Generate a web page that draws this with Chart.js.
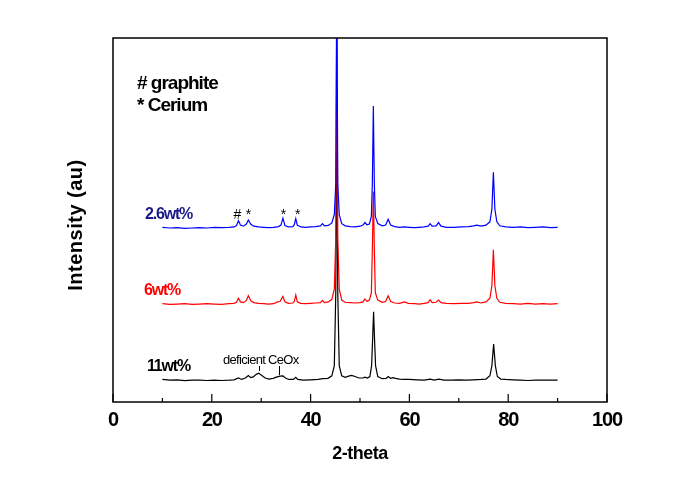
<!DOCTYPE html>
<html>
<head>
<meta charset="utf-8">
<script src="https://cdn.jsdelivr.net/npm/chart.js@4.4.1/dist/chart.umd.min.js"></script>
<style>
    html, body { margin: 0; padding: 0; background: #fff; }
    canvas { display: block; }
</style>
</head>
<body>
<canvas id="xrd" width="674" height="498"></canvas>
<script>
// 2-theta / intensity pairs (traces are offset vertically)
const trace26 = [
    [10, 48.0], [11.5, 47.8], [13, 47.9], [14.5, 47.7], [16, 47.8], [17.5, 47.9], [19, 47.8], [20.5, 48.0],
    [22, 47.9], [23.5, 48.0], [24.5, 48.1], [25.0, 48.5], [25.4, 49.8], [25.8, 48.6], [26.4, 48.3], [27.0, 48.9],
    [27.4, 50.0], [27.9, 48.8], [28.5, 48.3], [29.5, 48.1], [30.5, 48.0], [31.5, 47.9], [32.5, 48.0], [33.5, 48.2],
    [34.0, 48.6], [34.4, 50.5], [34.8, 48.5], [35.5, 48.1], [36.4, 48.2], [36.7, 48.7], [37.0, 50.4], [37.3, 48.6],
    [38, 48.1], [39, 48.0], [40, 48.1], [41, 48.2], [42.0, 48.4], [42.4, 49.0], [42.8, 48.4], [43.6, 48.5],
    [44.3, 49.2], [44.8, 51.5], [45.1, 60], [45.3, 115], [45.5, 60], [45.8, 51.5], [46.3, 49.0], [47, 48.4],
    [48, 48.2], [49, 48.1], [50.0, 48.3], [50.6, 48.6], [51.0, 49.3], [51.4, 48.7], [51.9, 48.9], [52.3, 51],
    [52.5, 60], [52.7, 81.3], [52.9, 60], [53.1, 51], [53.6, 49.0], [54.5, 48.4], [55.2, 48.6], [55.7, 50.2],
    [56.2, 48.6], [57, 48.2], [58, 48.0], [59, 48.1], [60, 48.0], [61, 47.9], [62, 48.0], [63, 48.1],
    [63.8, 48.3], [64.2, 49.0], [64.6, 48.3], [65.4, 48.4], [65.9, 49.3], [66.4, 48.3], [67.5, 48.0], [69, 48.0],
    [70.5, 48.1], [72, 48.2], [73, 48.4], [73.6, 48.6], [74.5, 48.3], [75.5, 48.6], [76.3, 49.5], [76.7, 53],
    [77.0, 63.1], [77.3, 53], [77.7, 49.5], [78.3, 48.4], [79.5, 48.1], [81, 48.0], [82.5, 48.1], [84, 47.9],
    [85.5, 48.0], [87, 48.1], [88.5, 47.9], [90, 48.0]
];
const trace6 = [
    [10, 27.0], [11.5, 26.8], [13, 26.9], [14.5, 27.0], [16, 26.8], [17.5, 26.9], [19, 27.0], [20.5, 26.9],
    [22, 26.8], [23.5, 27.0], [24.5, 27.1], [25.0, 27.4], [25.4, 28.5], [25.8, 27.5], [26.4, 27.3], [27.0, 27.9],
    [27.4, 29.2], [27.9, 27.8], [28.5, 27.3], [29.5, 27.1], [30.5, 27.0], [31.5, 26.9], [32.5, 27.0], [33.3, 27.5],
    [33.8, 27.6], [34.4, 29.0], [34.8, 27.5], [35.5, 27.1], [36.4, 27.2], [36.7, 27.6], [37.0, 29.4], [37.3, 27.5],
    [38, 27.1], [39, 27.0], [40, 27.1], [41, 27.2], [42.0, 27.3], [42.4, 27.9], [42.8, 27.3], [43.6, 27.5],
    [44.3, 28.2], [44.8, 31], [45.1, 45], [45.3, 115], [45.5, 45], [45.8, 31], [46.3, 28.0], [47, 27.4],
    [48, 27.3], [49, 27.2], [50, 27.3], [50.6, 27.5], [51.0, 28.3], [51.4, 27.6], [51.9, 28.0], [52.3, 30],
    [52.5, 42], [52.7, 57.8], [52.9, 42], [53.1, 30], [53.6, 28.0], [54.5, 27.4], [55.2, 27.6], [55.7, 29.2],
    [56.2, 27.6], [57, 27.2], [58, 27.1], [59.0, 27.5], [59.8, 27.1], [61, 27.0], [62, 26.9], [63, 27.1],
    [63.8, 27.3], [64.2, 28.1], [64.6, 27.3], [65.4, 27.4], [65.9, 28.0], [66.4, 27.3], [67.5, 27.1], [69, 27.0],
    [70.5, 27.1], [72, 27.1], [73, 27.3], [73.6, 27.5], [74.5, 27.2], [75.5, 27.5], [76.3, 28.5], [76.7, 32],
    [77.0, 41.8], [77.3, 32], [77.7, 28.5], [78.3, 27.4], [79.5, 27.1], [81, 27.0], [82.5, 26.9], [84, 27.1],
    [85.5, 26.9], [87, 27.0], [88.5, 26.9], [90, 27.0]
];
const trace11 = [
    [10, 6.2], [11.5, 6.0], [13, 6.1], [14.5, 5.9], [16, 6.0], [17.5, 6.0], [19, 5.9], [20.5, 6.0],
    [22, 5.9], [23.5, 6.0], [24.5, 6.1], [25.4, 6.6], [26.0, 6.2], [26.8, 6.6], [27.4, 7.3], [27.9, 6.7],
    [28.4, 6.9], [29.0, 7.6], [29.5, 7.9], [30.0, 7.4], [30.8, 6.6], [31.6, 6.3], [32.4, 6.5], [33.2, 6.9],
    [33.8, 7.1], [34.4, 7.2], [34.9, 6.6], [35.6, 6.2], [36.5, 6.2], [37.0, 6.8], [37.4, 6.2], [38.5, 6.0],
    [40, 6.1], [41.5, 6.2], [42.5, 6.4], [43.5, 6.5], [44.3, 7.2], [44.8, 10], [45.1, 30], [45.3, 75],
    [45.5, 30], [45.8, 10], [46.3, 7.2], [47, 6.8], [47.7, 7.1], [48.3, 7.3], [49.0, 7.0], [49.8, 6.6],
    [50.6, 6.6], [51.0, 6.8], [51.5, 6.6], [52.0, 7.0], [52.35, 10], [52.55, 17], [52.75, 24.8], [52.95, 17],
    [53.15, 10], [53.6, 7.0], [54.5, 6.4], [55.3, 6.5], [55.7, 7.0], [56.2, 6.5], [56.7, 6.7], [57.2, 6.5],
    [58, 6.3], [59, 6.2], [60, 6.2], [61.5, 6.1], [63, 6.0], [64.2, 6.3], [65, 6.0], [66, 6.3],
    [67, 6.0], [68.5, 6.0], [70, 6.1], [71.5, 6.0], [73, 6.1], [74.5, 6.2], [75.5, 6.3], [76.3, 7.2],
    [76.7, 10], [77.05, 15.9], [77.4, 10], [77.8, 7.0], [78.5, 6.3], [79.5, 6.2], [81, 6.1], [82.5, 6.0],
    [84, 5.9], [85.5, 6.0], [87, 6.0], [88.5, 6.0], [90, 6.0]
];

const sampleNames = ['2.6wt%', '6wt%', '11wt%'];
const xTickValues = [0, 20, 40, 60, 80, 100];
const xTickLabels = ['0', '20', '40', '60', '80', '100'];
const xMinorTicks = [10, 30, 50, 70, 90];

// phase markers above the 2.6wt% trace
const phaseMarks = ['#', '*', '*', '*'];
const phaseMarkAt = [25.2, 27.4, 34.5, 37.4];
// deficient CeOx leader lines on the 11wt% trace
const ceoxAt = [29.6, 33.7];

const FONT = '"Liberation Sans", Arial, sans-serif';

function drawText(ctx, str, x, y, font, color, spacing, align) {
    ctx.save();
    ctx.font = font;
    ctx.fillStyle = color;
    ctx.letterSpacing = spacing + 'px';
    ctx.textAlign = align || 'left';
    ctx.textBaseline = 'alphabetic';
    ctx.fillText(str, x, y);
    ctx.restore();
}

const decorations = {
    id: 'decorations',
    beforeDraw(chart) {
        // condensed look for the tick labels drawn by Chart.js
        chart.ctx.letterSpacing = '-1.2px';
    },
    afterDraw(chart) {
        const ctx = chart.ctx;
        const area = chart.chartArea;
        const xs = chart.scales.x;
        ctx.letterSpacing = '0px';

        // frame
        ctx.save();
        ctx.strokeStyle = '#000';
        ctx.lineWidth = 1.5;
        ctx.strokeRect(area.left, area.top, area.right - area.left, area.bottom - area.top);

        // inward ticks
        ctx.lineWidth = 1.2;
        ctx.beginPath();
        xTickValues.forEach(v => {
            const px = xs.getPixelForValue(v);
            ctx.moveTo(px, area.bottom);
            ctx.lineTo(px, area.bottom - 8);
        });
        xMinorTicks.forEach(v => {
            const px = xs.getPixelForValue(v);
            ctx.moveTo(px, area.bottom);
            ctx.lineTo(px, area.bottom - 4);
        });
        ctx.stroke();
        ctx.restore();

        // axis titles
        drawText(ctx, '2-theta', (area.left + area.right) / 2, 459, 'bold 18px ' + FONT, '#000', -0.5, 'center');
        ctx.save();
        ctx.translate(82, 225);
        ctx.rotate(-Math.PI / 2);
        drawText(ctx, 'Intensity (au)', 0, 0, 'bold 20px ' + FONT, '#000', 0.5, 'center');
        ctx.restore();

        // legend of phases
        drawText(ctx, '# graphite', 137, 89, 'bold 19px ' + FONT, '#000', -1, 'left');
        drawText(ctx, '* Cerium', 137, 111, 'bold 19px ' + FONT, '#000', -1, 'left');

        // sample labels
        drawText(ctx, sampleNames[0], 145, 219, 'bold 16px ' + FONT, '#1a1a8a', -1.2, 'left');
        drawText(ctx, sampleNames[1], 144, 295, 'bold 16px ' + FONT, '#ff0000', -1.2, 'left');
        drawText(ctx, sampleNames[2], 147, 371, 'bold 16px ' + FONT, '#000', -1.2, 'left');

        // phase markers
        phaseMarks.forEach((m, i) => {
            drawText(ctx, m, xs.getPixelForValue(phaseMarkAt[i]), 219, '14px ' + FONT, '#000', 0, 'center');
        });

        // deficient CeOx
        drawText(ctx, 'deficient CeOx', 223, 364, '13px ' + FONT, '#000', -0.7, 'left');
        ctx.save();
        ctx.strokeStyle = '#000';
        ctx.lineWidth = 1;
        ctx.beginPath();
        const ends = [371, 375];
        ceoxAt.forEach((v, i) => {
            const px = Math.round(xs.getPixelForValue(v)) + 0.5;
            ctx.moveTo(px, 366);
            ctx.lineTo(px, ends[i]);
        });
        ctx.stroke();
        ctx.restore();
    }
};

const ctx = document.getElementById('xrd').getContext('2d');
const chart = new Chart(ctx, {
    type: 'line',
    data: {
        datasets: [
            { label: sampleNames[0], data: trace26, borderColor: '#0000ff' },
            { label: sampleNames[1], data: trace6, borderColor: '#ff0000' },
            { label: sampleNames[2], data: trace11, borderColor: '#000000' }
        ]
    },
    options: {
        responsive: false,
        animation: false,
        devicePixelRatio: 1,
        layout: { padding: { left: 0, right: 67, top: 38, bottom: 0 } },
        elements: {
            line: { borderWidth: 1.2, tension: 0 },
            point: { radius: 0 }
        },
        plugins: {
            legend: { display: false },
            tooltip: { enabled: false }
        },
        scales: {
            x: {
                type: 'linear',
                min: 0,
                max: 100,
                afterBuildTicks: s => { s.ticks = xTickValues.map(v => ({ value: v })); },
                afterFit: s => { s.height = 96; },
                grid: { display: false, drawTicks: false },
                border: { display: false },
                ticks: {
                    color: '#000',
                    padding: 6,
                    maxRotation: 0,
                    font: { family: FONT, size: 20, weight: 'bold' },
                    callback: (v, i) => xTickLabels[i]
                }
            },
            y: {
                min: 0,
                max: 100,
                afterFit: s => { s.width = 113; },
                grid: { display: false, drawTicks: false },
                border: { display: false },
                ticks: { display: false }
            }
        }
    },
    plugins: [decorations]
});
</script>
</body>
</html>
